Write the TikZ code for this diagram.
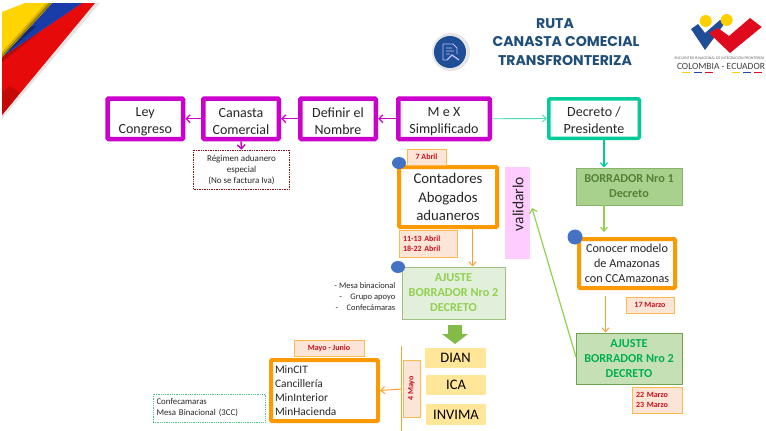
\documentclass[tikz,border=0pt]{standalone}
\usepackage{fontspec}
\setmainfont{Carlito}
\newfontfamily\titlefont{Poppins}
\usetikzlibrary{arrows.meta,shapes.geometric,calc}
\newcommand{\upstrut}{\rule{0pt}{14pt}}
\definecolor{mag}{HTML}{CC00CC}
\definecolor{teal1}{HTML}{00CC99}
\definecolor{org}{HTML}{FF9900}
\definecolor{orgl}{HTML}{FFA030}
\definecolor{peach}{HTML}{FBE5D6}
\definecolor{dred}{HTML}{C8101E}
\definecolor{lgreen}{HTML}{92D050}
\definecolor{titleblue}{HTML}{1F4E79}
\definecolor{dotblue}{HTML}{4472C4}
\definecolor{agencyy}{HTML}{FFE699}
\definecolor{pink1}{HTML}{FFCCFF}
\definecolor{green1}{HTML}{A9D18E}
\definecolor{green2}{HTML}{548235}
\definecolor{green3}{HTML}{70A050}
\definecolor{green4}{HTML}{C5E0B4}
\definecolor{green5}{HTML}{00B050}
\definecolor{green6}{HTML}{E2EFDA}
\definecolor{green7}{HTML}{A0C080}
\definecolor{flagr}{HTML}{E60A0A}
\definecolor{flagb}{HTML}{1A3CA8}
\definecolor{flagy}{HTML}{FFD400}
\definecolor{logob}{HTML}{1F4E96}
\definecolor{logor}{HTML}{E00A1E}
\definecolor{logoy}{HTML}{FFD000}
\tikzset{
 x=1pt,y=-1pt,
 magbox/.style={draw=mag,line width=4.5pt,rounded corners=1pt,fill=white,align=center,font=\fontsize{14}{17}\selectfont,text=black!85,inner sep=0pt},
 tealbox/.style={draw=teal1,line width=3.5pt,rounded corners=1pt,fill=white,align=center,font=\fontsize{14}{17}\selectfont,text=black!85,inner sep=0pt},
 orgbox/.style={draw=org,line width=4pt,rounded corners=1pt,fill=white,text=black!85,inner sep=0pt},
 datebox/.style={draw=org!70,line width=.9pt,fill=peach,text=dred,font=\bfseries\fontsize{8}{9.5}\selectfont,align=left,inner sep=0pt},
 agency/.style={fill=agencyy,text=black,font=\fontsize{14.5}{16}\selectfont,inner sep=0pt},
 gbox/.style={line width=1pt,align=center,font=\bfseries\fontsize{12.2}{15}\selectfont,inner sep=0pt},
 dot/.style={fill=dotblue,draw=none,ellipse,inner sep=0pt},
 magarrow/.style={draw=mag,line width=1.4pt,-{Straight Barb[length=4pt,width=8pt]}},
 thinarrow/.style={draw=orgl,line width=1pt,-{Straight Barb[length=4pt,width=7pt]}},
 note/.style={font=\fontsize{9}{11}\selectfont,text=black!85,align=center,inner sep=0pt},
 titletext/.style={font=\titlefont\bfseries\fontsize{14.1}{15}\selectfont,text=titleblue,inner sep=0pt},
}
\begin{document}
\begin{tikzpicture}
\useasboundingbox (0,0) rectangle (766,431);
% flag
\fill[black!10] (2,119) -- (2,115) -- (95,3) -- (100,3) -- cycle;
\fill[flagr] (2,57) -- (82,3) -- (95,3) -- (2,115) -- cycle;
\fill[flagr!80!black] (2,57) -- (82,3) -- (76,3) -- (2,62) -- cycle;
\fill[flagr!85!black] (2,92) -- (2,115) -- (20,93) -- (10,86) -- cycle;
\fill[flagb] (2,57) -- (52,3) -- (82,3) -- cycle;
\fill[flagb!70!black] (2,57) -- (30,27) -- (37,26) -- cycle;
\fill[flagy] (2,12) -- (25,3) -- (52,3) -- (2,57) -- cycle;
\fill[flagy!85!black] (2,52) -- (46,3) -- (52,3) -- (2,57) -- cycle;
\fill[flagy!60!black] (2,55) -- (49,3) -- (52,3) -- (2,57) -- cycle;
% title
\node[titletext] (t1) at (555,24) {RUTA};
\node[titletext] (t2) at (566,42) {CANASTA COMECIAL};
\node[titletext] (t3) at (565,61) {TRANSFRONTERIZA};
% icon
\node[circle,fill=black!10,minimum size=38pt,inner sep=0pt] (iconbg) at (451,52) {};
\node[circle,fill=logob,minimum size=32pt,inner sep=0pt] (icon) at (450,52) {};
\draw[white!75!blue,line width=.8pt] (443,44) -- (453,44) -- (457,48) -- (457,54) (443,44) -- (443,60) -- (447,60) (446,48) -- (452,48) (446,51) -- (454,51) (446,54) -- (450,54);
\draw[white!75!blue,line width=1.3pt] (447,60) -- (452,55) -- (459,60);
% logo
\fill[logob] (691,29) -- (698,24) -- (705,33) -- (720,20) -- (725,23) -- (705,50) -- cycle;
\fill[logoy] (705.7,21) circle (6);
\fill[logoy] (726.7,20) circle (6);
\fill[logor] (709,33) -- (718,28) -- (729,36) -- (750,18) -- (761.7,27) -- (730,53) -- cycle;
\node[font=\fontsize{3.9}{5}\selectfont,text=black!60,inner sep=0pt] (lg1) at (719.5,58) {ENCUENTRO BINACIONAL DE INTEGRACIÓN FRONTERIZA};
\node[font=\fontsize{9.5}{10}\selectfont,text=black!75,inner sep=0pt] (lg2) at (721,66) {COLOMBIA - ECUADOR};
\foreach \a/\c in {682/logoy,694/logob,705/logor,732/logoy,743/logob,754/logor}
  \draw[\c,line width=.9pt] (\a,72.5) -- ++(8,0);
% top row
\node[magbox,minimum width=75.5pt,minimum height=40.5pt] (ley) at (145.25,118.75) {\upstrut Ley\\Congreso};
\node[magbox,minimum width=75.5pt,minimum height=40.5pt] (can) at (241,118.75) {\upstrut Canasta\\Comercial};
\node[magbox,minimum width=75.5pt,minimum height=40.5pt] (def) at (338,118.75) {\upstrut Definir el\\Nombre};
\node[magbox,minimum width=91.5pt,minimum height=40.5pt] (mex) at (444,118.75) {\upstrut M e X\\Simplificado};
\node[tealbox,minimum width=90.5pt,minimum height=39.5pt] (dec) at (594,118.5) {\upstrut Decreto /\\Presidente};
\draw[magarrow] (can) -- (ley);
\draw[magarrow] (def) -- (can);
\draw[magarrow] (mex) -- (def);
\draw[draw=teal1!70,line width=.9pt,-{Straight Barb[length=4pt,width=7pt]}] (mex.east) -- (dec.west);
\node[note,draw=dred!70!black,densely dotted,line width=.7pt,minimum width=96pt,minimum height=39pt] (reg) at (241.5,169.5) {Régimen aduanero\\especial\\(No se factura Iva)};
\draw[magarrow] (can.south) -- (reg.north);
% contadores
\node[orgbox,minimum width=98pt,minimum height=60pt,align=center,font=\fontsize{14.8}{18.5}\selectfont] (cont) at (448,197) {Contadores\\Abogados\\aduaneros};
\node[datebox,minimum width=39pt,minimum height=16pt,align=center] (d7) at (426.5,157) {7 Abril};
\node[dot,minimum width=14pt,minimum height=12pt] (dot1) at (399,163) {};
\node[fill=pink1,minimum width=25pt,minimum height=92pt,inner sep=0pt] (val) at (517.5,213) {};
\node[rotate=90,font=\fontsize{15.5}{16}\selectfont,text=black!85,inner sep=0pt] (valt) at (518,204) {validarlo};
\node[datebox,minimum width=58pt,minimum height=27pt,text width=50pt] (d11) at (428,243.5) {11-13 Abril\\18-22 Abril};
\node[gbox,draw=green7,fill=green6,text=lgreen,minimum width=103pt,minimum height=52pt] (aj1) at (453.5,293) {AJUSTE\\BORRADOR Nro 2\\DECRETO};
\coordinate (a1) at (472.5,229);
\draw[thinarrow] (a1) -- (a1 |- aj1.north);
\node[dot,minimum width=14pt,minimum height=12pt] (dot2) at (398,267) {};
\node[note,align=right,anchor=east,font=\fontsize{8.5}{10.6}\selectfont] (mesa) at (395.5,296.5) {- Mesa binacional\\-\quad Grupo apoyo\\-\quad Confecámaras};
\fill[lgreen!90!black] (448,325) -- (462,325) -- (462,334) -- (468,334) -- (455,344) -- (442,334) -- (448,334) -- cycle;
\node[agency,minimum width=61pt,minimum height=20pt] (dian) at (455.5,358) {DIAN};
\node[agency,minimum width=60pt,minimum height=20pt] (ica) at (456,385) {ICA};
\node[agency,minimum width=60pt,minimum height=21pt] (invima) at (456,414.5) {INVIMA};
\coordinate (v1) at (401.5,346);
\coordinate (v2) at (401.5,431);
\coordinate (v3) at (401.5,389);
\draw[draw=orgl,line width=1pt] (v1) -- (v2);
\node[datebox,minimum width=17pt,minimum height=57pt] (d4) at (411.5,388.5) {};
\node[rotate=90,text=dred,font=\bfseries\fontsize{8}{9}\selectfont,inner sep=0pt] (d4t) at (411.5,388.5) {4 Mayo};
\node[orgbox,minimum width=107pt,minimum height=61pt,align=left,font=\fontsize{11.4}{13.8}\selectfont,text width=99pt] (min) at (324.5,390.5) {MinCIT\\Cancillería\\MinInterior\\MinHacienda};
\draw[thinarrow] (v3) -- (min.east);
\node[datebox,minimum width=70pt,minimum height=16pt,align=center] (dmj) at (329,348) {Mayo - Junio};
\node[note,draw=green5!70,densely dotted,line width=.8pt,minimum width=112pt,minimum height=28pt,align=left,text width=105pt,font=\fontsize{8.8}{11}\selectfont] (conf) at (209,408) {Confecamaras\\Mesa Binacional (3CC)};
% right column
\node[gbox,draw=green3!60!green1,fill=green1,text=green2,minimum width=106pt,minimum height=37pt] (b1) at (629,186.5) {BORRADOR Nro 1\\Decreto};
\coordinate (tarr) at (604,140);
\draw[draw=teal1,line width=1.2pt,-{Straight Barb[length=4pt,width=7pt]}] (tarr) -- (tarr |- b1.north);
\node[orgbox,minimum width=96pt,minimum height=49pt,align=center,font=\fontsize{12.2}{15.3}\selectfont] (con) at (627,263.5) {Conocer modelo\\de Amazonas\\con CCAmazonas};
\coordinate (garr) at (604,205);
\draw[draw=lgreen,line width=1.2pt,-{Straight Barb[length=4pt,width=7pt]}] (garr) -- (604,232);
\node[dot,minimum width=15pt,minimum height=15pt] (dot3) at (575,237) {};
\node[datebox,minimum width=48pt,minimum height=16pt,align=center] (d17) at (650,305) {17 Marzo};
\node[gbox,draw=green3,fill=green4,text=green5,minimum width=106pt,minimum height=51pt] (aj2) at (629,358.5) {AJUSTE\\BORRADOR Nro 2\\DECRETO};
\coordinate (a3) at (605.5,296);
\draw[thinarrow] (a3) -- (a3 |- aj2.north);
\node[datebox,minimum width=50pt,minimum height=26pt,text width=42pt] (d22) at (657,400) {22 Marzo\\23 Marzo};
\coordinate (g1) at (576,357);
\coordinate (h) at (532,208);
\draw[draw=lgreen,line width=1.2pt,-{Straight Barb[length=4pt,width=8pt]}] (g1) -- (h);
\end{tikzpicture}
\end{document}
